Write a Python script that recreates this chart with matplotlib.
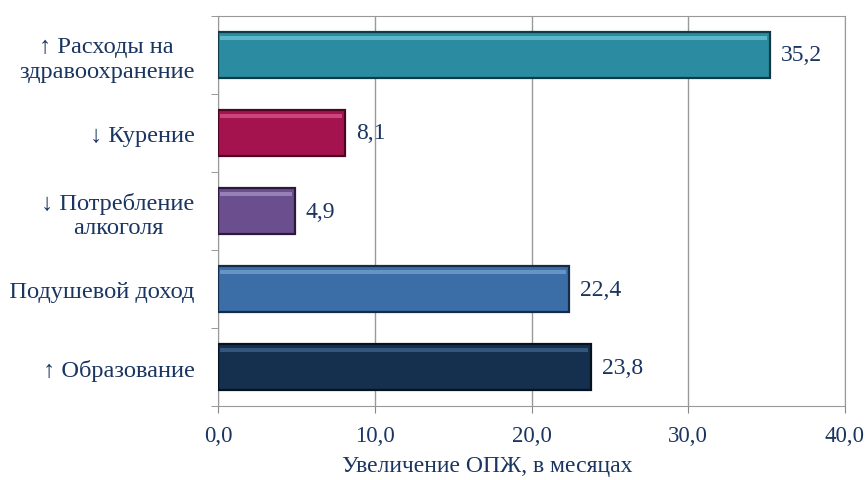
import numpy as np
import matplotlib.pyplot as plt
from matplotlib.ticker import FixedLocator

categories = ['↑ Расходы на\nздравоохранение', '↓ Курение', '↓ Потребление\nалкоголя',
              '↑ Подушевой доход', '↑ Образование']
values = [35.2, 8.1, 4.9, 22.4, 23.8]
colors = ['#2b8ba0', '#a5134f', '#6b4e8e', '#3b6ea6', '#15304f']
edges = ['#0f3a45', '#4a0622', '#2a1b3c', '#142c4a', '#061220']
highlights = ['#5cb8c9', '#c9467a', '#9780b6', '#6893c5', '#34557c']
xticks = [0, 10, 20, 30, 40]

navy = '#1a3560'
plt.rcParams['font.family'] = ['Liberation Serif', 'DejaVu Serif']

fig = plt.figure(figsize=(8.67, 4.81), dpi=100)
ax = fig.add_axes([0.2515, 0.1538, 0.7231, 0.8109])

y = np.arange(len(categories))
bh = 0.58
ax.barh(y, values, height=bh, color=colors, edgecolor=edges, linewidth=1.6, zorder=3)
# bevel: light stripe near the top edge of each bar
ax.barh(y - bh / 2 + 0.07, [v - 0.35 for v in values], left=0.15, height=0.05,
        color=highlights, linewidth=0, zorder=4)

for yi, v in zip(y, values):
    ax.text(v + 0.7, yi, f'{v:.1f}'.replace('.', ','), va='center', ha='left',
            fontsize=17, color=navy)

ax.set_xlim(0, 40)
ax.set_ylim(len(categories) - 0.5, -0.5)
ax.set_xticks(xticks)
ax.set_xticklabels([f'{t:.1f}'.replace('.', ',') for t in xticks], fontsize=16.5, color=navy)
ax.set_yticks(y)
ax.set_yticklabels(categories, fontsize=17.6, color=navy, ha='right',
                   multialignment='center', linespacing=1.2)
ax.tick_params(axis='y', length=0, pad=17)
ax.yaxis.set_minor_locator(FixedLocator(np.arange(-0.5, len(categories), 1)))
ax.tick_params(axis='y', which='minor', length=5, color='#888888')
ax.tick_params(axis='x', length=5, color='#888888', pad=9)

ax.grid(axis='x', color='#999999', linewidth=1, zorder=0)
for s in ax.spines.values():
    s.set_color('#999999')
ax.set_xlabel('Увеличение ОПЖ, в месяцах', fontsize=17, color=navy)
ax.xaxis.set_label_coords(0.429, -0.125)

fig.savefig('out.png', dpi=100)
